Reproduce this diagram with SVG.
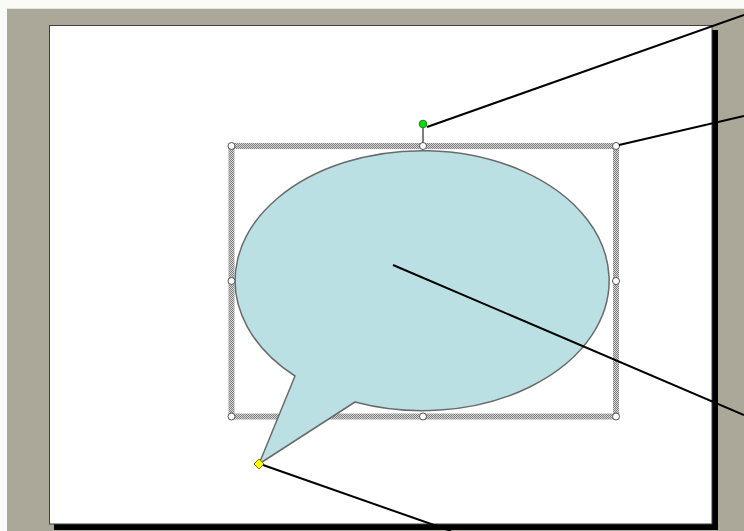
<svg xmlns="http://www.w3.org/2000/svg" width="744" height="531" viewBox="0 0 744 531">
  <style>
    .handle { fill: #ffffff; stroke: #555555; stroke-width: 1; }
    .leader { stroke: #000000; stroke-width: 2; fill: none; }
    .shadow { fill: #000000; }
  </style>
  <defs>
    <pattern id="dots" width="2" height="2" patternUnits="userSpaceOnUse">
      <rect width="2" height="2" fill="#d4d4d4"/>
      <rect width="1" height="1" fill="#808080"/>
      <rect x="1" y="1" width="1" height="1" fill="#808080"/>
    </pattern>
  </defs>

  <g id="background">
    <rect x="0" y="0" width="744" height="531" fill="#fafaf6"/>
    <rect x="7" y="9" width="737" height="522" fill="#aca899"/>
    <line x1="7" y1="8.5" x2="744" y2="8.5" stroke="#e6e4d8" stroke-width="1"/>
  </g>

  <g id="page">
    <rect class="shadow" x="712" y="30" width="6" height="500"/>
    <rect class="shadow" x="54" y="524" width="664" height="6"/>
    <rect x="49.5" y="25.5" width="662.5" height="498.5" fill="#ffffff" stroke="#404040" stroke-width="1"/>
  </g>

  <g id="selection-frame">
    <rect x="231.5" y="146" width="384.5" height="270.5" fill="none" stroke="url(#dots)" stroke-width="6"/>
  </g>

  <g id="callout">
    <path d="M355,402 A187,130 0 1 0 295,376 L259,464 Z" fill="#bbe0e3" stroke="#6a6a6a" stroke-width="1.5" stroke-linejoin="round"/>
  </g>

  <g id="rotate-handle">
    <line x1="423" y1="124" x2="423" y2="145" stroke="#555555" stroke-width="1.5"/>
    <circle cx="423" cy="124" r="3.8" fill="#00e000" stroke="#2a7a2a" stroke-width="1"/>
  </g>

  <g id="resize-handles">
    <circle class="handle" cx="231.5" cy="146" r="3.5"/>
    <circle class="handle" cx="423" cy="146" r="3.5"/>
    <circle class="handle" cx="616" cy="146" r="3.5"/>
    <circle class="handle" cx="231.5" cy="281" r="3.5"/>
    <circle class="handle" cx="616" cy="281" r="3.5"/>
    <circle class="handle" cx="231.5" cy="416.5" r="3.5"/>
    <circle class="handle" cx="423" cy="416.5" r="3.5"/>
    <circle class="handle" cx="616" cy="416.5" r="3.5"/>
  </g>

  <g id="adjust-handle">
    <polygon points="259,459 264,464 259,469 254,464" fill="#ffff00" stroke="#7a7a00" stroke-width="1"/>
  </g>

  <g id="connectors">
    <line class="leader" x1="427" y1="127" x2="744" y2="15"/>
    <line class="leader" x1="619" y1="145" x2="744" y2="116"/>
    <line class="leader" x1="393" y1="265" x2="744" y2="415"/>
    <line class="leader" x1="263" y1="465" x2="451" y2="531"/>
  </g>
</svg>
